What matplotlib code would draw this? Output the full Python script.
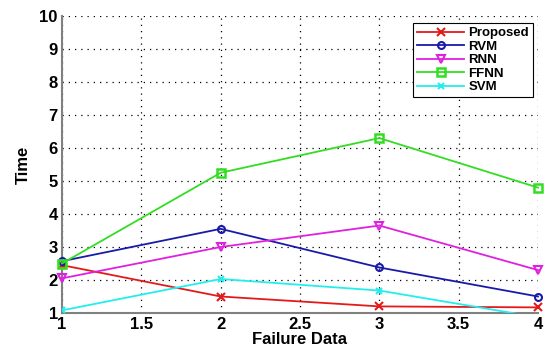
import numpy as np
import matplotlib.pyplot as plt

# Data
failure_data = [1, 2, 3, 4]
proposed = [2.45, 1.5, 1.2, 1.17]
rvm = [2.57, 3.55, 2.38, 1.5]
rnn = [2.05, 3.0, 3.65, 2.3]
ffnn = [2.5, 5.25, 6.3, 4.8]
svm = [1.08, 2.03, 1.68, 0.87]

plt.rcParams['font.family'] = ['Liberation Sans', 'DejaVu Sans']
plt.rcParams['font.weight'] = 'bold'

fig = plt.figure(figsize=(5.47, 3.52), dpi=100)
ax = fig.add_axes([62 / 547, 1 - 313 / 352, 476 / 547, 297 / 352])

ax.plot(failure_data, proposed, color='#e41a1a', marker='x', markersize=6, mew=1.5, lw=1.3,
        label='Proposed', clip_on=False, zorder=3)
ax.plot(failure_data, rvm, color='#1a1aaa', marker='o', markersize=5, mfc='none', mew=1.5, lw=1.3,
        label='RVM', clip_on=False, zorder=3)
ax.plot(failure_data, rnn, color='#e020e0', marker='v', markersize=6, mfc='none', mew=1.5, lw=1.3,
        label='RNN', clip_on=False, zorder=3)
ax.plot(failure_data, ffnn, color='#33dd22', marker='s', markersize=6, mfc='none', mew=1.8, lw=1.3,
        label='FFNN', clip_on=False, zorder=3)
ax.plot(failure_data, svm, color='#22eeee', marker='x', markersize=5, mew=1.5, lw=1.3,
        label='SVM', zorder=3)

ax.set_xlim(1, 4)
ax.set_ylim(1, 10)
ax.set_xticks([1, 1.5, 2, 2.5, 3, 3.5, 4])
ax.set_xticklabels(['1', '1.5', '2', '2.5', '3', '3.5', '4'])
ax.set_yticks(range(1, 11))
ax.grid(True, color='black', linestyle=(0, (1, 4)), linewidth=0.9)

for s in ['top', 'right']:
    ax.spines[s].set_visible(False)
for s in ['left', 'bottom']:
    ax.spines[s].set_color('#808080')
    ax.spines[s].set_linewidth(1.5)
ax.tick_params(length=0, labelsize=12, pad=3)

ax.set_xlabel('Failure Data', fontsize=12, fontweight='bold', labelpad=0)
ax.set_ylabel('Time', fontsize=12, fontweight='bold', labelpad=6)

leg = ax.legend(loc='upper right', bbox_to_anchor=(533 / 547, 1 - 23 / 352), bbox_transform=fig.transFigure,
                prop={'size': 9.5, 'weight': 'bold'}, fancybox=False, framealpha=1, edgecolor='black',
                handlelength=3.6, borderpad=0.3, labelspacing=0.1, handletextpad=0.3, borderaxespad=0)
leg.get_frame().set_linewidth(0.8)

fig.savefig('out.png', dpi=100)
